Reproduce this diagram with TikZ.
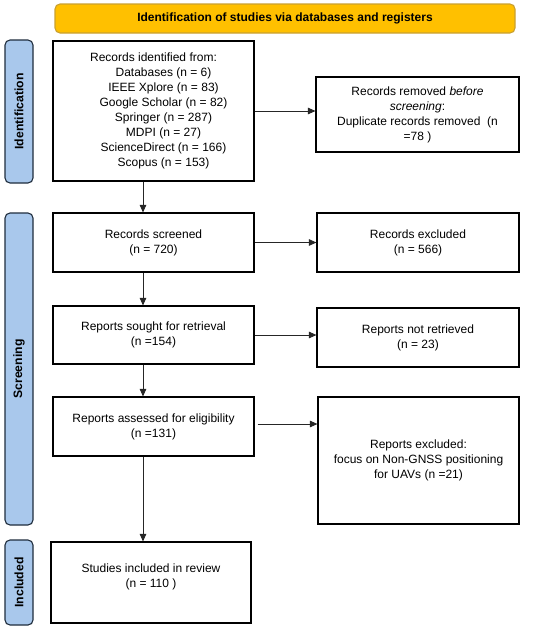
\documentclass[tikz,border=0pt]{standalone}
\usepackage{fontspec}
\setmainfont{Liberation Sans}
\usetikzlibrary{arrows.meta}
\definecolor{bannerfill}{HTML}{FFC000}
\definecolor{bannerdraw}{HTML}{C9A030}
\definecolor{sidefill}{HTML}{A9C8EC}
\definecolor{sidedraw}{HTML}{1F2D3D}
\newcommand{\itm}{\hspace*{20pt}}
\tikzset{
  box/.style={draw=black, line width=1.1pt, fill=white, inner sep=2pt, align=center,
    font=\fontsize{12}{15}\selectfont},
  side/.style={draw=sidedraw, fill=sidefill, line width=1.1pt, rounded corners=5pt,
    minimum width=28pt, inner sep=0pt},
  sidetext/.style={rotate=90, font=\bfseries\fontsize{12.2}{14}\selectfont},
  conn/.style={line width=0.9pt, draw=black!85, -{Triangle[length=7.5pt,width=6.5pt]}},
}
\begin{document}
\begin{tikzpicture}[x=1pt, y=-1pt]
\useasboundingbox (0,0) rectangle (550,629);
% banner
\node[draw=bannerdraw, fill=bannerfill, line width=1.1pt, rounded corners=5pt,
  minimum width=460pt, minimum height=29pt, inner sep=0pt,
  font=\bfseries\fontsize{12}{14}\selectfont] (banner) at (285,18.5)
  {Identification of studies via databases and registers};
% side labels
\node[side, minimum height=143pt] (sid) at (19,111.5) {};
\node[sidetext] (sidt) at (sid.center) {Identification};
\node[side, minimum height=312pt] (sscr) at (19,369) {};
\node[sidetext] (sscrt) at (sscr.center) {Screening};
\node[side, minimum height=85pt] (sinc) at (19,582.5) {};
\node[sidetext] (sinct) at (sinc.center) {Included};
% boxes
\node[box, minimum width=201pt, minimum height=140pt] (ident) at (153.5,111)
  {Records identified from:\\ \itm Databases (n = 6)\\ \itm IEEE Xplore (n = 83)\\ \itm Google Scholar (n = 82)\\ \itm Springer (n = 287)\\ \itm MDPI (n = 27)\\ \itm ScienceDirect (n = 166)\\ \itm Scopus (n = 153)};
\node[box, minimum width=203pt, minimum height=75pt] (removed) at (417.5,114.5)
  {Records removed \textit{before}\\ \textit{screening}:\\ Duplicate records removed \ (n\\ =78 )};
\node[box, minimum width=201pt, minimum height=59pt] (screened) at (153.5,242.5)
  {Records screened\\ (n = 720)};
\node[box, minimum width=202pt, minimum height=59pt] (excl) at (418,242.5)
  {Records excluded\\ (n = 566)};
\node[box, minimum width=201pt, minimum height=58pt] (sought) at (153.5,335)
  {Reports sought for retrieval\\ (n =154)};
\node[box, minimum width=202pt, minimum height=59pt] (notret) at (418,337.5)
  {Reports not retrieved\\ (n = 23)};
\node[box, minimum width=201pt, minimum height=59pt] (assessed) at (153.5,426.5)
  {Reports assessed for eligibility\\ (n =131)};
\node[box, minimum width=201pt, minimum height=127pt] (repexcl) at (418.5,460.5)
  {Reports excluded:\\ focus on Non-GNSS positioning\\ for UAVs (n =21)};
\node[box, minimum width=200pt, minimum height=81pt] (included) at (151,582.5)
  {Studies included in review\\ (n = 110 )\\[-1pt]};
% connectors
\coordinate (ax) at (143,0);
\draw[conn] (ident.south -| ax) -- (screened.north -| ax);
\draw[conn] (screened.south -| ax) -- (sought.north -| ax);
\draw[conn] (sought.south -| ax) -- (assessed.north -| ax);
\draw[conn] (assessed.south -| ax) -- (included.north -| ax);
\draw[conn] (ident.east) -- (ident.east -| removed.west);
\draw[conn] (screened.east) -- (screened.east -| excl.west);
\draw[conn] (sought.east) -- (sought.east -| notret.west);
\draw[conn] ([xshift=3pt,yshift=2.5pt]assessed.east) -- ([yshift=2.5pt]assessed.east -| repexcl.west);
\end{tikzpicture}
\end{document}
